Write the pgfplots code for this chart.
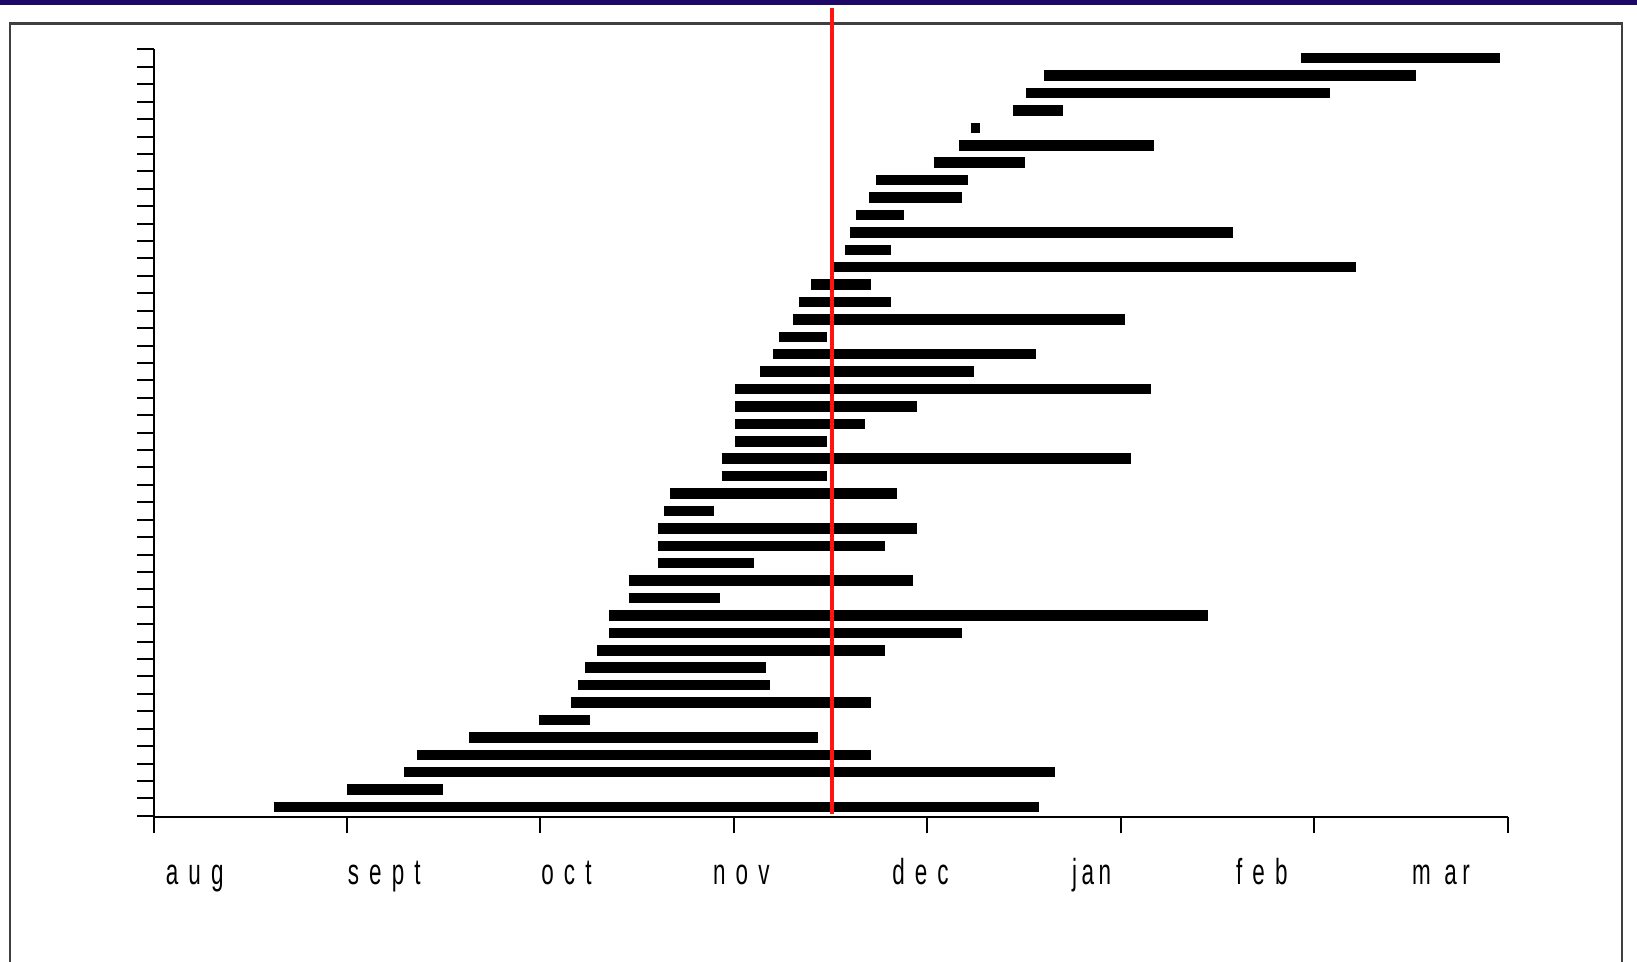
\documentclass[border=0pt]{standalone}
\usepackage{graphicx}
\usepackage{fontspec}
\setmainfont{Liberation Sans}
\usepackage{pgfplots}
\pgfplotsset{compat=1.18}
\definecolor{navyband}{RGB}{30,8,104}
\definecolor{redline}{RGB}{255,20,20}
\newcommand{\lab}[1]{\fontsize{10.3}{12}\selectfont\scalebox{0.62}[1]{#1}}
\newcommand{\gp}{\hspace{0.45em}}
\begin{document}
\begin{tikzpicture}
\useasboundingbox (0,0) rectangle (16.37,9.62);
\fill[white] (0,0) rectangle (16.37,9.62);
\fill[navyband] (0,9.57) rectangle (16.37,9.62);
\draw[black!75, line width=0.025cm] (0.10,-0.05) -- (0.10,9.385) -- (16.22,9.385) -- (16.22,-0.05);
\begin{axis}[
  at={(1.535cm,1.445cm)}, anchor=south west,
  scale only axis, width=13.54cm, height=7.68cm,
  xmin=0, xmax=7, ymin=0.4, ymax=44.5,
  axis lines=left,
  axis line style={-, black, line width=0.02cm},
  clip=false,
  tick align=outside,
  major tick length=0.16cm,
  tick style={black, line width=0.02cm},
  xtick={0,1,2,3,4,5,6,7},
  xticklabels={,,,,,,,},
  ytick={0.5,1.5,...,44.5},
  yticklabels={},
  extra x ticks={0.213,1.193,2.135,3.039,3.965,4.850,5.730,6.656},
  extra x tick labels={
    {\lab{a\gp u\gp g}},
    {\lab{s\gp e\gp p\gp t}},
    {\lab{o\gp c\gp t}},
    {\lab{n\gp o\gp v}},
    {\lab{d\gp e\gp c}},
    {\lab{j\hspace{0.2em}a\hspace{0.2em}n}},
    {\lab{f\gp e\gp b}},
    {\lab{m\hspace{0.6em}a\hspace{0.25em}r}}},
  extra x tick style={major tick length=0pt, tick style={draw=none},
    xticklabel style={anchor=base, yshift=-0.67cm, inner sep=0pt}},
]
\addplot[black, line width=0.105cm, line cap=butt, unbounded coords=jump] coordinates {
(5.933,44) (6.959,44) (0,nan)
(4.605,43) (6.527,43) (0,nan)
(4.513,42) (6.084,42) (0,nan)
(4.443,41) (4.702,41) (0,nan)
(4.227,40) (4.275,40) (0,nan)
(4.162,39) (5.172,39) (0,nan)
(4.033,38) (4.508,38) (0,nan)
(3.736,37) (4.211,37) (0,nan)
(3.698,36) (4.178,36) (0,nan)
(3.633,35) (3.881,35) (0,nan)
(3.601,34) (5.582,34) (0,nan)
(3.574,33) (3.811,33) (0,nan)
(3.505,32) (6.219,32) (0,nan)
(3.401,31) (3.709,31) (0,nan)
(3.336,30) (3.811,30) (0,nan)
(3.304,29) (5.021,29) (0,nan)
(3.234,28) (3.482,28) (0,nan)
(3.201,27) (4.562,27) (0,nan)
(3.136,26) (4.243,26) (0,nan)
(3.007,25) (5.155,25) (0,nan)
(3.007,24) (3.946,24) (0,nan)
(3.007,23) (3.676,23) (0,nan)
(3.007,22) (3.482,22) (0,nan)
(2.937,21) (5.053,21) (0,nan)
(2.937,20) (3.482,20) (0,nan)
(2.672,19) (3.844,19) (0,nan)
(2.640,18) (2.899,18) (0,nan)
(2.607,17) (3.946,17) (0,nan)
(2.607,16) (3.784,16) (0,nan)
(2.607,15) (3.104,15) (0,nan)
(2.456,14) (3.925,14) (0,nan)
(2.456,13) (2.931,13) (0,nan)
(2.354,12) (5.452,12) (0,nan)
(2.354,11) (4.178,11) (0,nan)
(2.294,10) (3.784,10) (0,nan)
(2.230,9) (3.169,9) (0,nan)
(2.192,8) (3.185,8) (0,nan)
(2.159,7) (3.709,7) (0,nan)
(1.992,6) (2.257,6) (0,nan)
(1.630,5) (3.433,5) (0,nan)
(1.360,4) (3.709,4) (0,nan)
(1.296,3) (4.659,3) (0,nan)
(0.999,2) (1.495,2) (0,nan)
(0.621,1) (4.578,1)
};
\addplot[redline, line width=0.04cm] coordinates {(3.508,0.6) (3.508,46.9)};
\end{axis}
\end{tikzpicture}
\end{document}
